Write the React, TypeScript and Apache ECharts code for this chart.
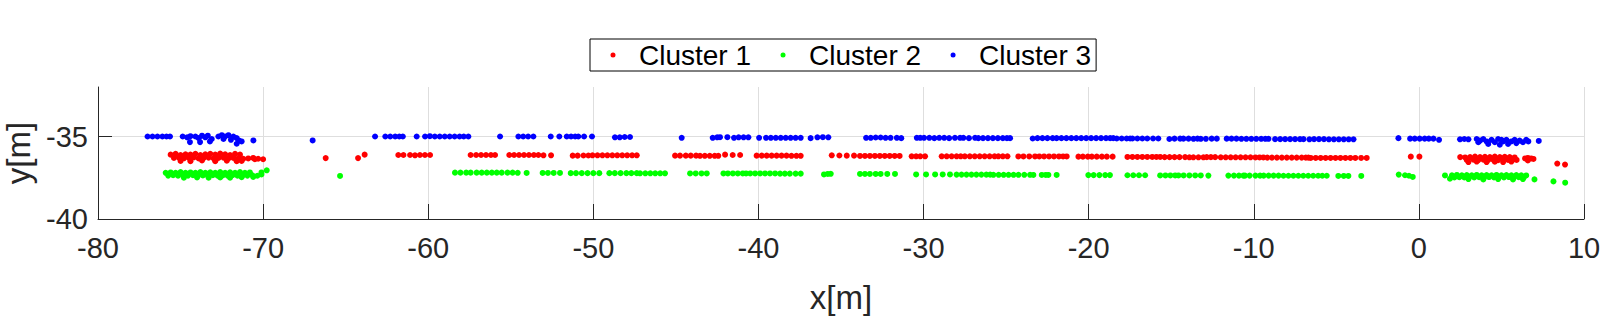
import React, { useEffect, useRef } from "react";
import * as echarts from "echarts";

const seriesNames = ["Cluster 1", "Cluster 2", "Cluster 3"];
const xTickValues = [-80, -70, -60, -50, -40, -30, -20, -10, 0, 10];
const yTickValues = [-40, -35];

// Cluster 1 (red)
const cluster1: [number, number][] = [
  [-75.6, -36.1], [-75.3, -36.05], [-75.0, -36.12], [-74.7, -36.08], [-74.4, -36.1], [-74.1, -36.05], [-73.8, -36.12],
  [-73.5, -36.08], [-73.2, -36.05], [-72.9, -36.1], [-72.6, -36.03], [-72.3, -36.08], [-72.0, -36.12], [-71.7, -36.05], [-71.4, -36.1],
  [-75.4, -36.3], [-75.1, -36.28], [-74.8, -36.32], [-74.5, -36.3], [-74.2, -36.27], [-73.9, -36.33], [-73.6, -36.3],
  [-73.3, -36.28], [-73.0, -36.32], [-72.7, -36.3], [-72.4, -36.28], [-72.1, -36.33], [-71.8, -36.3], [-71.5, -36.32], [-71.2, -36.35],
  [-75.0, -36.48], [-74.4, -36.5], [-73.7, -36.45], [-72.9, -36.5], [-72.2, -36.47], [-71.6, -36.5], [-71.3, -36.48],
  [-70.9, -36.33], [-70.6, -36.3], [-70.5, -36.38], [-70.3, -36.35], [-70.0, -36.38],
  [-66.21, -36.31], [-64.25, -36.31], [-63.85, -36.1],
  [-61.81, -36.12], [-61.5, -36.12], [-61.1, -36.12], [-60.8, -36.14], [-60.5, -36.12], [-60.2, -36.12], [-59.89, -36.12],
  [-57.43, -36.12], [-57.1, -36.12], [-56.8, -36.12], [-56.5, -36.12], [-56.2, -36.12], [-55.95, -36.12],
  [-55.09, -36.12], [-54.8, -36.12], [-54.5, -36.12], [-54.2, -36.12], [-53.9, -36.12], [-53.6, -36.12], [-53.33, -36.12],
  [-53.02, -36.14], [-52.56, -36.14],
  [-51.25, -36.16], [-50.95, -36.16], [-50.6, -36.15], [-50.3, -36.15],
  [-50.05, -36.14], [-49.75, -36.14], [-49.45, -36.14], [-49.15, -36.14], [-48.85, -36.14], [-48.55, -36.14], [-48.25, -36.14],
  [-47.95, -36.14], [-47.65, -36.14], [-47.37, -36.14],
  [-45.05, -36.16], [-44.75, -36.16], [-44.4, -36.16], [-44.1, -36.16], [-43.78, -36.16],
  [-43.54, -36.17], [-43.25, -36.17], [-42.95, -36.17], [-42.65, -36.17], [-42.43, -36.17],
  [-42.02, -36.1], [-41.56, -36.12], [-41.11, -36.12],
  [-40.11, -36.16], [-39.8, -36.16], [-39.5, -36.16], [-39.2, -36.16], [-38.9, -36.16], [-38.6, -36.16], [-38.3, -36.16],
  [-38.0, -36.17], [-37.7, -36.17], [-37.44, -36.17],
  [-35.56, -36.14], [-35.1, -36.15], [-34.65, -36.16], [-34.21, -36.16],
  [-33.85, -36.18], [-33.55, -36.18], [-33.25, -36.18], [-32.95, -36.18], [-32.65, -36.18], [-32.35, -36.18], [-32.05, -36.18],
  [-31.75, -36.18], [-31.45, -36.18],
  [-30.72, -36.2], [-30.45, -36.2], [-30.2, -36.2], [-29.91, -36.2],
  [-28.9, -36.2], [-28.6, -36.2], [-28.3, -36.2], [-28.0, -36.2], [-27.75, -36.2],
  [-27.5, -36.2], [-27.2, -36.2], [-26.9, -36.2], [-26.6, -36.2], [-26.3, -36.2], [-26.0, -36.2], [-25.7, -36.2], [-25.47, -36.2],
  [-25.2, -36.2], [-24.92, -36.2],
  [-24.26, -36.21], [-23.95, -36.21], [-23.6, -36.21], [-23.25, -36.21],
  [-22.99, -36.21], [-22.7, -36.21], [-22.4, -36.21], [-22.1, -36.21], [-21.8, -36.21], [-21.55, -36.21], [-21.33, -36.21],
  [-20.62, -36.22], [-20.35, -36.22], [-20.05, -36.22], [-19.81, -36.22],
  [-19.51, -36.22], [-19.2, -36.22], [-18.9, -36.22], [-18.55, -36.22],
  [-17.65, -36.24], [-17.35, -36.24], [-17.05, -36.24], [-16.75, -36.24], [-16.45, -36.24], [-16.15, -36.24], [-15.9, -36.24], [-15.67, -36.24],
  [-15.4, -36.25], [-15.1, -36.25], [-14.8, -36.25], [-14.5, -36.25], [-14.16, -36.25],
  [-13.9, -36.26],
  [-13.66, -36.26], [-13.35, -36.26], [-13.05, -36.26],
  [-12.85, -36.25], [-12.6, -36.25], [-12.34, -36.25],
  [-12.0, -36.26], [-11.7, -36.26], [-11.4, -36.26], [-11.1, -36.26], [-10.8, -36.26], [-10.5, -36.26], [-10.2, -36.26],
  [-9.9, -36.27], [-9.65, -36.27], [-9.42, -36.27],
  [-9.18, -36.28], [-8.9, -36.28], [-8.6, -36.28], [-8.3, -36.28], [-8.0, -36.28], [-7.7, -36.28], [-7.4, -36.28], [-7.1, -36.28],
  [-6.85, -36.28], [-6.69, -36.28],
  [-6.55, -36.3], [-6.25, -36.3], [-5.95, -36.3], [-5.65, -36.3], [-5.35, -36.3], [-5.05, -36.3], [-4.75, -36.3], [-4.45, -36.3],
  [-4.15, -36.3], [-3.85, -36.3], [-3.5, -36.3], [-3.16, -36.3],
  [-0.49, -36.22], [0.03, -36.22],
  [2.5, -36.25], [2.8, -36.27], [3.1, -36.25], [3.4, -36.22], [3.7, -36.25], [4.0, -36.23], [4.3, -36.25], [4.6, -36.22],
  [4.9, -36.25], [5.2, -36.23], [5.5, -36.25], [5.8, -36.27],
  [2.9, -36.42], [3.3, -36.4], [3.6, -36.43], [3.9, -36.4], [4.2, -36.42], [4.5, -36.4], [4.8, -36.43], [5.1, -36.4],
  [5.4, -36.42], [5.7, -36.4], [5.92, -36.42],
  [3.0, -36.55], [3.5, -36.52], [4.1, -36.55], [4.6, -36.53], [5.1, -36.55], [5.6, -36.52],
  [6.43, -36.33], [6.6, -36.3], [6.6, -36.45], [6.8, -36.33], [6.94, -36.36],
  [8.38, -36.64], [8.85, -36.7],
];

// Cluster 2 (green)
const cluster2: [number, number][] = [
  [-75.9, -37.2], [-75.6, -37.18], [-75.3, -37.2], [-75.0, -37.16], [-74.7, -37.2], [-74.4, -37.18], [-74.1, -37.2],
  [-73.8, -37.16], [-73.5, -37.2], [-73.2, -37.17], [-72.9, -37.2], [-72.6, -37.15], [-72.3, -37.2], [-72.0, -37.17],
  [-71.7, -37.2], [-71.4, -37.16], [-71.1, -37.2], [-70.8, -37.18],
  [-75.75, -37.37], [-75.45, -37.35], [-75.15, -37.38], [-74.85, -37.36], [-74.55, -37.37], [-74.25, -37.35], [-73.95, -37.38],
  [-73.65, -37.36], [-73.35, -37.37], [-73.05, -37.35], [-72.75, -37.38], [-72.45, -37.36], [-72.15, -37.37], [-71.85, -37.35],
  [-71.55, -37.38], [-71.25, -37.36], [-70.95, -37.37], [-70.65, -37.35], [-70.35, -37.38], [-70.1, -37.3],
  [-74.8, -37.5], [-74.0, -37.48], [-73.3, -37.5], [-72.6, -37.48], [-72.0, -37.5], [-71.3, -37.47], [-70.6, -37.45],
  [-69.78, -37.05], [-70.1, -37.18],
  [-65.34, -37.39],
  [-58.38, -37.19], [-58.05, -37.19], [-57.7, -37.19], [-57.43, -37.19], [-57.07, -37.19],
  [-56.76, -37.19], [-56.45, -37.19], [-56.15, -37.19], [-55.85, -37.19], [-55.55, -37.19], [-55.2, -37.19], [-54.89, -37.19],
  [-54.58, -37.2], [-54.04, -37.21],
  [-53.07, -37.21], [-52.75, -37.21], [-52.4, -37.21], [-52.02, -37.21],
  [-51.37, -37.22], [-51.05, -37.22], [-50.7, -37.22], [-50.35, -37.22], [-50.0, -37.22], [-49.64, -37.22],
  [-49.03, -37.22], [-48.7, -37.22], [-48.35, -37.22], [-48.0, -37.22], [-47.7, -37.22], [-47.37, -37.22],
  [-47.17, -37.23], [-46.85, -37.23], [-46.55, -37.23], [-46.25, -37.23], [-45.95, -37.23], [-45.66, -37.23],
  [-44.14, -37.24], [-43.8, -37.24], [-43.45, -37.24], [-43.13, -37.24],
  [-42.12, -37.24], [-41.85, -37.24], [-41.55, -37.24], [-41.25, -37.24], [-40.95, -37.24], [-40.75, -37.24],
  [-40.5, -37.24], [-40.2, -37.24], [-39.9, -37.24], [-39.6, -37.24], [-39.3, -37.24], [-38.99, -37.24],
  [-38.69, -37.25], [-38.4, -37.25], [-38.1, -37.25], [-37.75, -37.25], [-37.44, -37.25],
  [-36.03, -37.3], [-35.8, -37.27], [-35.62, -37.26],
  [-33.85, -37.27], [-33.55, -37.27], [-33.25, -37.27], [-32.9, -37.27], [-32.6, -37.27], [-32.2, -37.27], [-31.73, -37.27],
  [-30.45, -37.3], [-29.85, -37.3], [-29.3, -37.3], [-28.84, -37.3], [-28.4, -37.3],
  [-28.0, -37.31], [-27.7, -37.31], [-27.4, -37.31], [-27.1, -37.31], [-26.8, -37.31], [-26.5, -37.31], [-26.2, -37.31], [-25.97, -37.31],
  [-25.77, -37.32], [-25.45, -37.32], [-25.15, -37.32], [-24.85, -37.32], [-24.55, -37.32], [-24.25, -37.32], [-23.9, -37.32], [-23.55, -37.32],
  [-23.35, -37.33],
  [-22.84, -37.33], [-22.6, -37.33], [-22.44, -37.33], [-21.94, -37.33],
  [-20.02, -37.34], [-19.7, -37.34], [-19.35, -37.34], [-19.0, -37.34], [-18.71, -37.34],
  [-17.65, -37.35], [-17.3, -37.35], [-16.95, -37.35], [-16.58, -37.35],
  [-15.67, -37.36], [-15.35, -37.36], [-15.05, -37.36], [-14.76, -37.36],
  [-14.56, -37.36], [-14.25, -37.36], [-13.9, -37.36], [-13.55, -37.36], [-13.21, -37.36],
  [-12.75, -37.37],
  [-11.54, -37.37], [-11.2, -37.37], [-10.9, -37.37], [-10.63, -37.37],
  [-10.53, -37.37], [-10.25, -37.37], [-9.9, -37.37], [-9.62, -37.37],
  [-9.4, -37.37], [-9.1, -37.37], [-8.8, -37.37], [-8.5, -37.37], [-8.2, -37.38], [-7.9, -37.38], [-7.6, -37.38], [-7.3, -37.38],
  [-7.0, -37.38], [-6.7, -37.38], [-6.4, -37.38], [-6.1, -37.38], [-5.85, -37.38], [-5.58, -37.38],
  [-4.88, -37.39], [-4.55, -37.39], [-4.27, -37.39],
  [-3.49, -37.39],
  [-1.22, -37.31], [-0.84, -37.35], [-0.6, -37.38], [-0.37, -37.45],
  [1.58, -37.36],
  [2.0, -37.35], [2.3, -37.33], [2.6, -37.35], [2.9, -37.34], [3.2, -37.35], [3.5, -37.33], [3.8, -37.35], [4.1, -37.34],
  [4.4, -37.35], [4.7, -37.33], [5.0, -37.35], [5.3, -37.34], [5.6, -37.35], [5.9, -37.34], [6.2, -37.35], [6.5, -37.36],
  [2.15, -37.48], [2.45, -37.47], [2.75, -37.48], [3.05, -37.46], [3.35, -37.48], [3.65, -37.47], [3.95, -37.48], [4.25, -37.46],
  [4.55, -37.48], [4.85, -37.47], [5.15, -37.48], [5.45, -37.46], [5.75, -37.48], [6.05, -37.47], [6.35, -37.48],
  [1.88, -37.56], [3.0, -37.58], [3.9, -37.6], [4.8, -37.58], [5.7, -37.6], [6.3, -37.58],
  [7.0, -37.6], [8.15, -37.72], [8.86, -37.8],
];

// Cluster 3 (blue)
const cluster3: [number, number][] = [
  [-77.0, -35.0], [-76.7, -35.0], [-76.4, -35.0], [-76.1, -35.0], [-75.85, -35.0], [-75.64, -35.0],
  [-74.87, -35.0], [-74.6, -35.05], [-74.43, -35.34], [-74.4, -34.98], [-74.1, -35.0], [-73.9, -35.1], [-73.82, -35.34],
  [-73.7, -34.95], [-73.5, -35.05], [-73.35, -34.95], [-73.22, -35.3], [-73.11, -35.15],
  [-72.71, -35.0], [-72.5, -34.92], [-72.4, -35.15], [-72.3, -35.0], [-72.1, -34.92], [-71.95, -35.2], [-71.8, -35.0],
  [-71.6, -35.44], [-71.6, -35.1], [-71.45, -35.25], [-71.3, -35.3],
  [-70.59, -35.24], [-67.0, -35.24], [-63.22, -35.0],
  [-62.6, -35.0], [-62.3, -35.0], [-62.0, -35.0], [-61.75, -35.0], [-61.54, -35.0], [-60.7, -35.0],
  [-60.19, -35.0], [-59.9, -34.98], [-59.6, -35.0], [-59.3, -35.0], [-59.0, -35.0], [-58.7, -35.0], [-58.4, -35.0],
  [-58.1, -35.0], [-57.85, -35.0], [-57.57, -35.0],
  [-55.65, -35.0], [-54.54, -35.0], [-54.25, -35.0], [-53.95, -35.0], [-53.63, -35.0], [-52.58, -35.0], [-52.06, -35.0],
  [-51.61, -35.0], [-51.35, -35.0], [-51.1, -35.0], [-50.91, -35.0], [-50.56, -35.0], [-50.08, -35.0],
  [-48.69, -35.05], [-48.4, -35.05], [-48.1, -35.03], [-47.78, -35.03],
  [-44.65, -35.08], [-42.77, -35.08], [-42.5, -35.05], [-42.33, -35.04], [-41.88, -35.04],
  [-41.48, -35.08], [-41.2, -35.05], [-40.9, -35.05], [-40.61, -35.05], [-39.96, -35.08],
  [-39.54, -35.08], [-39.25, -35.08], [-38.95, -35.08], [-38.65, -35.08], [-38.35, -35.08], [-38.05, -35.08], [-37.75, -35.08], [-37.44, -35.08],
  [-36.84, -35.1], [-36.43, -35.05], [-36.1, -35.04], [-35.77, -35.05],
  [-33.48, -35.08], [-33.2, -35.08], [-32.9, -35.06], [-32.6, -35.06], [-32.3, -35.08], [-32.0, -35.08], [-31.62, -35.08], [-31.35, -35.1],
  [-30.41, -35.08], [-30.2, -35.08], [-29.97, -35.08],
  [-29.65, -35.08], [-29.35, -35.1], [-29.05, -35.08], [-28.75, -35.08], [-28.45, -35.1], [-28.1, -35.08], [-27.79, -35.08],
  [-27.59, -35.08], [-27.25, -35.1], [-26.88, -35.08],
  [-26.68, -35.1], [-26.4, -35.1], [-26.1, -35.1], [-25.8, -35.1], [-25.5, -35.1], [-25.2, -35.1], [-24.95, -35.1], [-24.76, -35.1],
  [-23.39, -35.12], [-23.1, -35.1], [-22.8, -35.1], [-22.5, -35.1], [-22.18, -35.1],
  [-21.94, -35.1], [-21.65, -35.1], [-21.35, -35.1], [-21.05, -35.1], [-20.75, -35.1], [-20.45, -35.1], [-20.15, -35.1],
  [-19.85, -35.1], [-19.55, -35.1], [-19.25, -35.1], [-18.95, -35.1], [-18.7, -35.1], [-18.51, -35.1],
  [-18.3, -35.12], [-18.0, -35.12], [-17.7, -35.12], [-17.49, -35.12],
  [-17.35, -35.12], [-17.05, -35.12], [-16.75, -35.12], [-16.45, -35.12], [-16.1, -35.12], [-15.78, -35.12],
  [-15.11, -35.15], [-14.8, -35.13], [-14.46, -35.13],
  [-14.26, -35.13], [-13.95, -35.13], [-13.65, -35.14], [-13.41, -35.13],
  [-13.21, -35.14], [-12.9, -35.14], [-12.55, -35.13], [-12.24, -35.13],
  [-11.64, -35.13], [-11.35, -35.13], [-11.05, -35.13], [-10.75, -35.14], [-10.45, -35.14], [-10.15, -35.14], [-9.85, -35.14],
  [-9.55, -35.14], [-9.3, -35.14], [-9.11, -35.14],
  [-8.71, -35.16], [-8.4, -35.16], [-8.1, -35.16], [-7.8, -35.16], [-7.5, -35.16], [-7.2, -35.16], [-6.99, -35.16],
  [-6.63, -35.17],
  [-6.35, -35.16], [-6.05, -35.16], [-5.75, -35.16], [-5.45, -35.17], [-5.15, -35.17], [-4.85, -35.17], [-4.55, -35.17],
  [-4.25, -35.17], [-3.96, -35.17],
  [-1.24, -35.1],
  [-0.53, -35.13], [-0.25, -35.13], [0.05, -35.13], [0.35, -35.13], [0.6, -35.13], [0.88, -35.13],
  [1.22, -35.2],
  [2.49, -35.17], [2.75, -35.15], [3.0, -35.17],
  [3.5, -35.15], [3.6, -35.35], [3.7, -35.25], [3.9, -35.15], [4.1, -35.3], [4.2, -35.45], [4.4, -35.2], [4.6, -35.35],
  [4.8, -35.15], [4.9, -35.5], [5.0, -35.2], [5.1, -35.3], [5.3, -35.2], [5.4, -35.45], [5.6, -35.3], [5.8, -35.2],
  [5.9, -35.4], [6.1, -35.25], [6.3, -35.35], [6.5, -35.2], [6.63, -35.3],
  [7.26, -35.27],
];

const clusters = [cluster1, cluster2, cluster3];
const clusterColors = ["#ff0000", "#00ff00", "#0000ff"];
const FONT = "'Liberation Sans', Arial, Helvetica, sans-serif";
const AXIS_COLOR = "#262626";
const GRID_COLOR = "#dedede";
// wide legend icon: a dot centred in a 42x5 box
const LEGEND_ICON = "path://M0,0 M42,5 M18.5,2.5 A2.5,2.5 0 1 0 23.5,2.5 A2.5,2.5 0 1 0 18.5,2.5 Z";

export default function App() {
  const ref = useRef<HTMLDivElement>(null);

  useEffect(() => {
    document.body.style.margin = "0";
    if (!ref.current) return;
    const chart = echarts.init(ref.current, undefined, { renderer: "svg" });
    chart.setOption({
      animation: false,
      backgroundColor: "#ffffff",
      textStyle: { fontFamily: FONT },
      grid: { left: 98, right: 20, top: 87, bottom: 105, containLabel: false, outerBoundsMode: "none" },
      legend: {
        data: seriesNames,
        left: 590,
        top: 39,
        orient: "horizontal",
        icon: LEGEND_ICON,
        itemWidth: 42,
        itemHeight: 5,
        itemGap: 11,
        padding: [2, 5, 2, 2],
        borderColor: "#000000",
        borderWidth: 1,
        backgroundColor: "#ffffff",
        textStyle: { fontSize: 28, color: "#000000", fontFamily: FONT },
      },
      xAxis: {
        type: "value",
        min: xTickValues[0],
        max: xTickValues[xTickValues.length - 1],
        interval: 10,
        name: "x[m]",
        nameLocation: "middle",
        nameGap: 62,
        nameTextStyle: { fontSize: 33, color: AXIS_COLOR, fontFamily: FONT },
        axisLine: { show: true, onZero: false, lineStyle: { color: AXIS_COLOR, width: 1 } },
        axisTick: { show: true, inside: true, length: 15, lineStyle: { color: AXIS_COLOR } },
        axisLabel: { fontSize: 29, color: AXIS_COLOR, margin: 14, fontFamily: FONT },
        splitLine: { show: true, lineStyle: { color: GRID_COLOR, width: 1 } },
      },
      yAxis: {
        type: "value",
        min: -40,
        max: -32,
        interval: 5,
        name: "y[m]",
        nameLocation: "middle",
        nameGap: 60,
        nameTextStyle: { fontSize: 33, color: AXIS_COLOR, fontFamily: FONT },
        axisLine: { show: true, onZero: false, lineStyle: { color: AXIS_COLOR, width: 1 } },
        axisTick: { show: true, inside: true, length: 14, lineStyle: { color: AXIS_COLOR }, customValues: yTickValues },
        axisLabel: { fontSize: 29, color: AXIS_COLOR, margin: 10, fontFamily: FONT, customValues: yTickValues },
        splitLine: { show: true, lineStyle: { color: GRID_COLOR, width: 1 } },
      },
      series: clusters.map((data, i) => ({
        name: seriesNames[i],
        type: "scatter",
        data,
        symbol: "circle",
        symbolSize: 6,
        itemStyle: { color: clusterColors[i], opacity: 1 },
        emphasis: { disabled: true },
      })),
    });
    return () => chart.dispose();
  }, []);

  return (
    <div
      ref={ref}
      style={{ position: "fixed", left: 0, top: 0, width: 1604, height: 324 }}
    />
  );
}
